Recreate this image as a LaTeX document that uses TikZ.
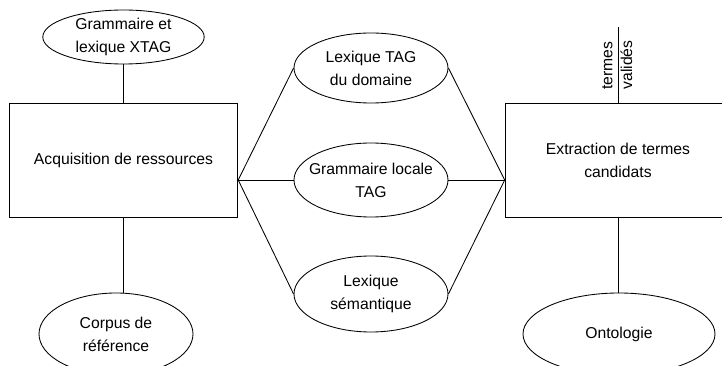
\documentclass[tikz,border=0pt]{standalone}
\usepackage{fontspec}
\setmainfont{Liberation Sans}
\usetikzlibrary{shapes.geometric}

\tikzset{
  res/.style={draw, ellipse, inner sep=0pt, align=center},
  proc/.style={draw, rectangle, minimum width=160pt, minimum height=79.8pt, align=center},
  vlabel/.style={rotate=90, inner sep=0pt}
}

\begin{document}
\begin{tikzpicture}[x=0.7pt, y=-0.7pt, line width=0.6pt,
  every node/.append style={font=\fontsize{11}{16}\selectfont}]
	\useasboundingbox (0,0) rectangle (722,366);
	\clip (0,0) rectangle (722,366);
	% the two processes
	\node[proc] (acq) at (123.5,160) {Acquisition de ressources};
	\node[proc, minimum width=158pt] (extr) at (618,160) {Extraction de termes\\candidats};
	% resources
	\node[res, minimum width=113pt, minimum height=37.8pt] (xtag) at (123.5,37) {Grammaire et\\lexique XTAG};
	\node[res, minimum width=107.8pt, minimum height=57.4pt] (corpus) at (116,334) {Corpus de\\référence};
	\node[res, minimum width=107.8pt, minimum height=49pt] (lex) at (371,68) {Lexique TAG\\du domaine};
	\node[res, minimum width=107.8pt, minimum height=51.8pt, inner xsep=-6pt] (gram) at (371,180) {Grammaire locale\\TAG};
	\node[res, minimum width=107.8pt, minimum height=53.2pt] (sem) at (371,294) {Lexique\\sémantique};
	\node[res, minimum width=134.4pt, minimum height=57.4pt] (onto) at (619,334) {Ontologie};
	% junctions on the boxes
	\coordinate (jl) at (acq.east |- gram.west);
	\coordinate (jr) at (extr.west |- gram.east);
	\coordinate (tv) at (618,27);
	\node[vlabel, anchor=south west] (termes) at (613,90) {termes};
	\node[vlabel, anchor=north west] (valides) at (620,90) {validés};
	\path
	(xtag) edge (acq)
	(acq) edge (acq |- corpus.north)
	(jl) edge (lex.west)
	(jl) edge (gram)
	(jl) edge (sem.west)
	(lex.east) edge (jr)
	(gram) edge (jr)
	(sem.east) edge (jr)
	(tv) edge (extr.north)
	(extr) edge (extr |- onto.north);
\end{tikzpicture}
\end{document}
